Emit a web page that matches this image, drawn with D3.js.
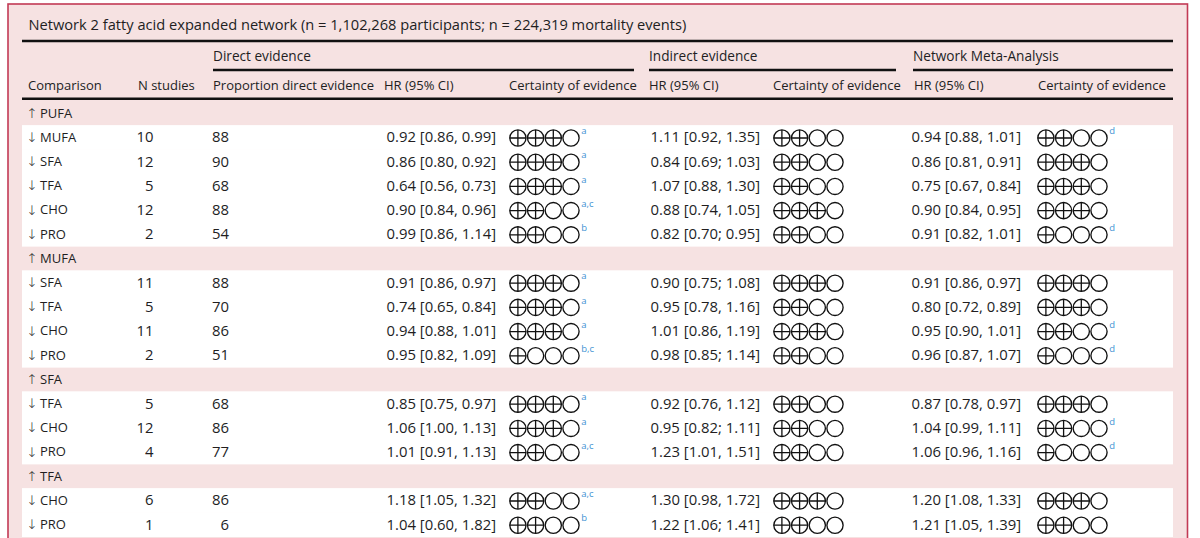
<!DOCTYPE html>
<html><head><meta charset="utf-8">
<script src="https://cdn.jsdelivr.net/npm/d3@7"></script>
<style>
html,body{margin:0;padding:0;background:#fff;}
svg{display:block;}
text{font-family:"Open Sans","Noto Sans",sans-serif;fill:#221e1f;}
</style></head>
<body>
<svg id="c" width="1200" height="538"></svg>
<script>
// ---------- DATA ----------
const title = "Network 2 fatty acid expanded network (n = 1,102,268 participants; n = 224,319 mortality events)";
const groupLabels = ["Direct evidence", "Indirect evidence", "Network Meta-Analysis"];
const headerLabels = ["Comparison","N studies","Proportion direct evidence","HR (95% CI)","Certainty of evidence","HR (95% CI)","Certainty of evidence","HR (95% CI)","Certainty of evidence"];
const referenceGroups = ["PUFA","MUFA","SFA","TFA"];
const comparisonGroup = ["PUFA","PUFA","PUFA","PUFA","PUFA","MUFA","MUFA","MUFA","MUFA","SFA","SFA","SFA","TFA","TFA"];
const comparisonName  = ["MUFA","SFA","TFA","CHO","PRO","SFA","TFA","CHO","PRO","TFA","CHO","PRO","CHO","PRO"];
const nStudies        = [10,12,5,12,2,11,5,11,2,5,12,4,6,1];
const propDirect      = [88,90,68,88,54,88,70,86,51,68,86,77,86,6];
const directHR = ["0.92 [0.86, 0.99]","0.86 [0.80, 0.92]","0.64 [0.56, 0.73]","0.90 [0.84, 0.96]","0.99 [0.86, 1.14]",
                  "0.91 [0.86, 0.97]","0.74 [0.65, 0.84]","0.94 [0.88, 1.01]","0.95 [0.82, 1.09]",
                  "0.85 [0.75, 0.97]","1.06 [1.00, 1.13]","1.01 [0.91, 1.13]",
                  "1.18 [1.05, 1.32]","1.04 [0.60, 1.82]"];
const directCert = [3,3,3,2,2, 3,3,3,1, 3,3,2, 2,2];
const directNote = ["a","a","a","a,c","b", "a","a","a","b,c", "a","a","a,c", "a,c","b"];
const indirectHR = ["1.11 [0.92, 1.35]","0.84 [0.69; 1.03]","1.07 [0.88, 1.30]","0.88 [0.74, 1.05]","0.82 [0.70; 0.95]",
                    "0.90 [0.75; 1.08]","0.95 [0.78, 1.16]","1.01 [0.86, 1.19]","0.98 [0.85; 1.14]",
                    "0.92 [0.76, 1.12]","0.95 [0.82; 1.11]","1.23 [1.01, 1.51]",
                    "1.30 [0.98, 1.72]","1.22 [1.06; 1.41]"];
const indirectCert = [2,2,2,3,2, 3,2,3,2, 2,2,2, 3,2];
const indirectNote = ["","","","","", "","","","", "","","", "",""];
const nmaHR = ["0.94 [0.88, 1.01]","0.86 [0.81, 0.91]","0.75 [0.67, 0.84]","0.90 [0.84, 0.95]","0.91 [0.82, 1.01]",
               "0.91 [0.86, 0.97]","0.80 [0.72, 0.89]","0.95 [0.90, 1.01]","0.96 [0.87, 1.07]",
               "0.87 [0.78, 0.97]","1.04 [0.99, 1.11]","1.06 [0.96, 1.16]",
               "1.20 [1.08, 1.33]","1.21 [1.05, 1.39]"];
const nmaCert = [2,3,3,3,1, 3,3,2,1, 3,2,1, 3,2];
const nmaNote = ["d","","","","d", "","","d","d", "","d","d", "",""];

// ---------- BUILD ROWS ----------
const rows = [];
referenceGroups.forEach(g => {
  rows.push({type:"group", arrow:"\u2191", label:g});
  comparisonName.forEach((c,i) => {
    if (comparisonGroup[i] !== g) return;
    rows.push({type:"data", arrow:"\u2193", label:c, n:nStudies[i], p:propDirect[i],
      dHR:directHR[i], dC:directCert[i], dN:directNote[i],
      iHR:indirectHR[i], iC:indirectCert[i], iN:indirectNote[i],
      mHR:nmaHR[i], mC:nmaCert[i], mN:nmaNote[i]});
  });
});

const svg = d3.select("#c");

function fit(sample, target){
  const t = svg.append("text").style("font-size","100px").text(sample);
  const w = t.node().getComputedTextLength(); t.remove();
  return (100*target/w).toFixed(2)+"px";
}
const fsTitle = fit(title, 658);
const fsGroup = fit("Direct evidence", 98);
const fsHead  = fit("Proportion direct evidence", 161);
const fsBody  = fit("0.92 [0.86, 0.99]", 109.5);

// ---------- LAYOUT ----------
const left = 22, right = 1173;
const y = d3.scaleBand().domain(d3.range(rows.length)).range([100.9, 536.5]).padding(0);
const colX = d3.scaleOrdinal()
  .domain(["arrow","cmp","n","p","dHR","dC","iHR","iC","mHR","mC"])
  .range([32, 40, 153.5, 229, 496, 509, 760, 773, 1021, 1037]);
const headX = [28,138,213,384,509,649,773,914,1038];
const groupX = [[213,634],[649,896],[913,1173]];

svg.insert("rect",":first-child").attr("x",8).attr("y",4).attr("width",1179.5).attr("height",600)
  .attr("fill","#f6e2e2").attr("stroke","#c23a55").attr("stroke-width",1.6);

svg.append("g").selectAll("rect").data(rows.map((r,i)=>({r,i})).filter(d=>d.r.type==="data"))
  .join("rect").attr("x",left).attr("width",right-left)
  .attr("y",d=>y(d.i)).attr("height",y.bandwidth()+0.5).attr("fill","#fff");

svg.append("text").attr("x",28.5).attr("y",24.5).attr("dy","0.35em")
  .style("font-size",fsTitle).text(title);

const rule = (x1,x2,yy)=>svg.append("line").attr("x1",x1).attr("x2",x2).attr("y1",yy).attr("y2",yy)
  .attr("stroke","#111").attr("stroke-width",2.4);
rule(left,right,41);
rule(left,right,98.8);
groupX.forEach(g=>rule(g[0],g[1],70));

svg.append("g").selectAll("text").data(groupLabels).join("text")
  .attr("x",(d,i)=>groupX[i][0]).attr("y",56).attr("dy","0.35em")
  .style("font-size",fsGroup).text(d=>d);

svg.append("g").selectAll("text").data(headerLabels).join("text")
  .attr("x",(d,i)=>headX[i]).attr("y",85.5).attr("dy","0.35em")
  .style("font-size",fsHead).text(d=>d);

const rg = svg.append("g").selectAll("g").data(rows).join("g")
  .attr("transform",(d,i)=>`translate(0,${y(i)+y.bandwidth()/2})`);

rg.append("text").attr("x",colX("arrow")).attr("dy","0.36em").attr("text-anchor","middle")
  .style("font-family","'DejaVu Sans'").style("font-size","13.5px").style("font-weight","300")
  .attr("transform","scale(1,1)").text(d=>d.arrow);
rg.append("text").attr("x",colX("cmp")).attr("dy","0.35em").style("font-size",fsHead).text(d=>d.label);

const dataRows = rg.filter(d=>d.type==="data");
const rtext = (key, acc) => dataRows.append("text").attr("x",colX(key)).attr("dy","0.35em")
  .attr("text-anchor","end").style("font-size",fsBody).text(acc);
rtext("n", d=>d.n);
rtext("p", d=>d.p);
rtext("dHR", d=>d.dHR);
rtext("iHR", d=>d.iHR);
rtext("mHR", d=>d.mHR);

const step = 17.7, r = 8.1;
function certainty(key, certAcc, noteAcc){
  const g = dataRows.append("g").attr("transform",`translate(${colX(key)},0)`);
  g.each(function(d){
    const sel = d3.select(this);
    const k = certAcc(d);
    const circ = sel.selectAll("g.c").data(d3.range(4)).join("g").attr("class","c")
      .attr("transform",j=>`translate(${r+0.8+j*step},0.8)`);
    circ.append("circle").attr("r",r).attr("fill","none").attr("stroke","#111").attr("stroke-width",1.35);
    circ.filter(j=>j<k).append("path").attr("d",`M${-r},0H${r}M0,${-r}V${r}`)
      .attr("stroke","#111").attr("stroke-width",1.3);
    const note = noteAcc(d);
    if (note) sel.append("text").attr("x",4*step+1.5).attr("y",-3)
      .style("font-size","9.5px").style("fill","#3f93d3").text(note);
  });
}
certainty("dC", d=>d.dC, d=>d.dN);
certainty("iC", d=>d.iC, d=>d.iN);
certainty("mC", d=>d.mC, d=>d.mN);
</script>
</body></html>
